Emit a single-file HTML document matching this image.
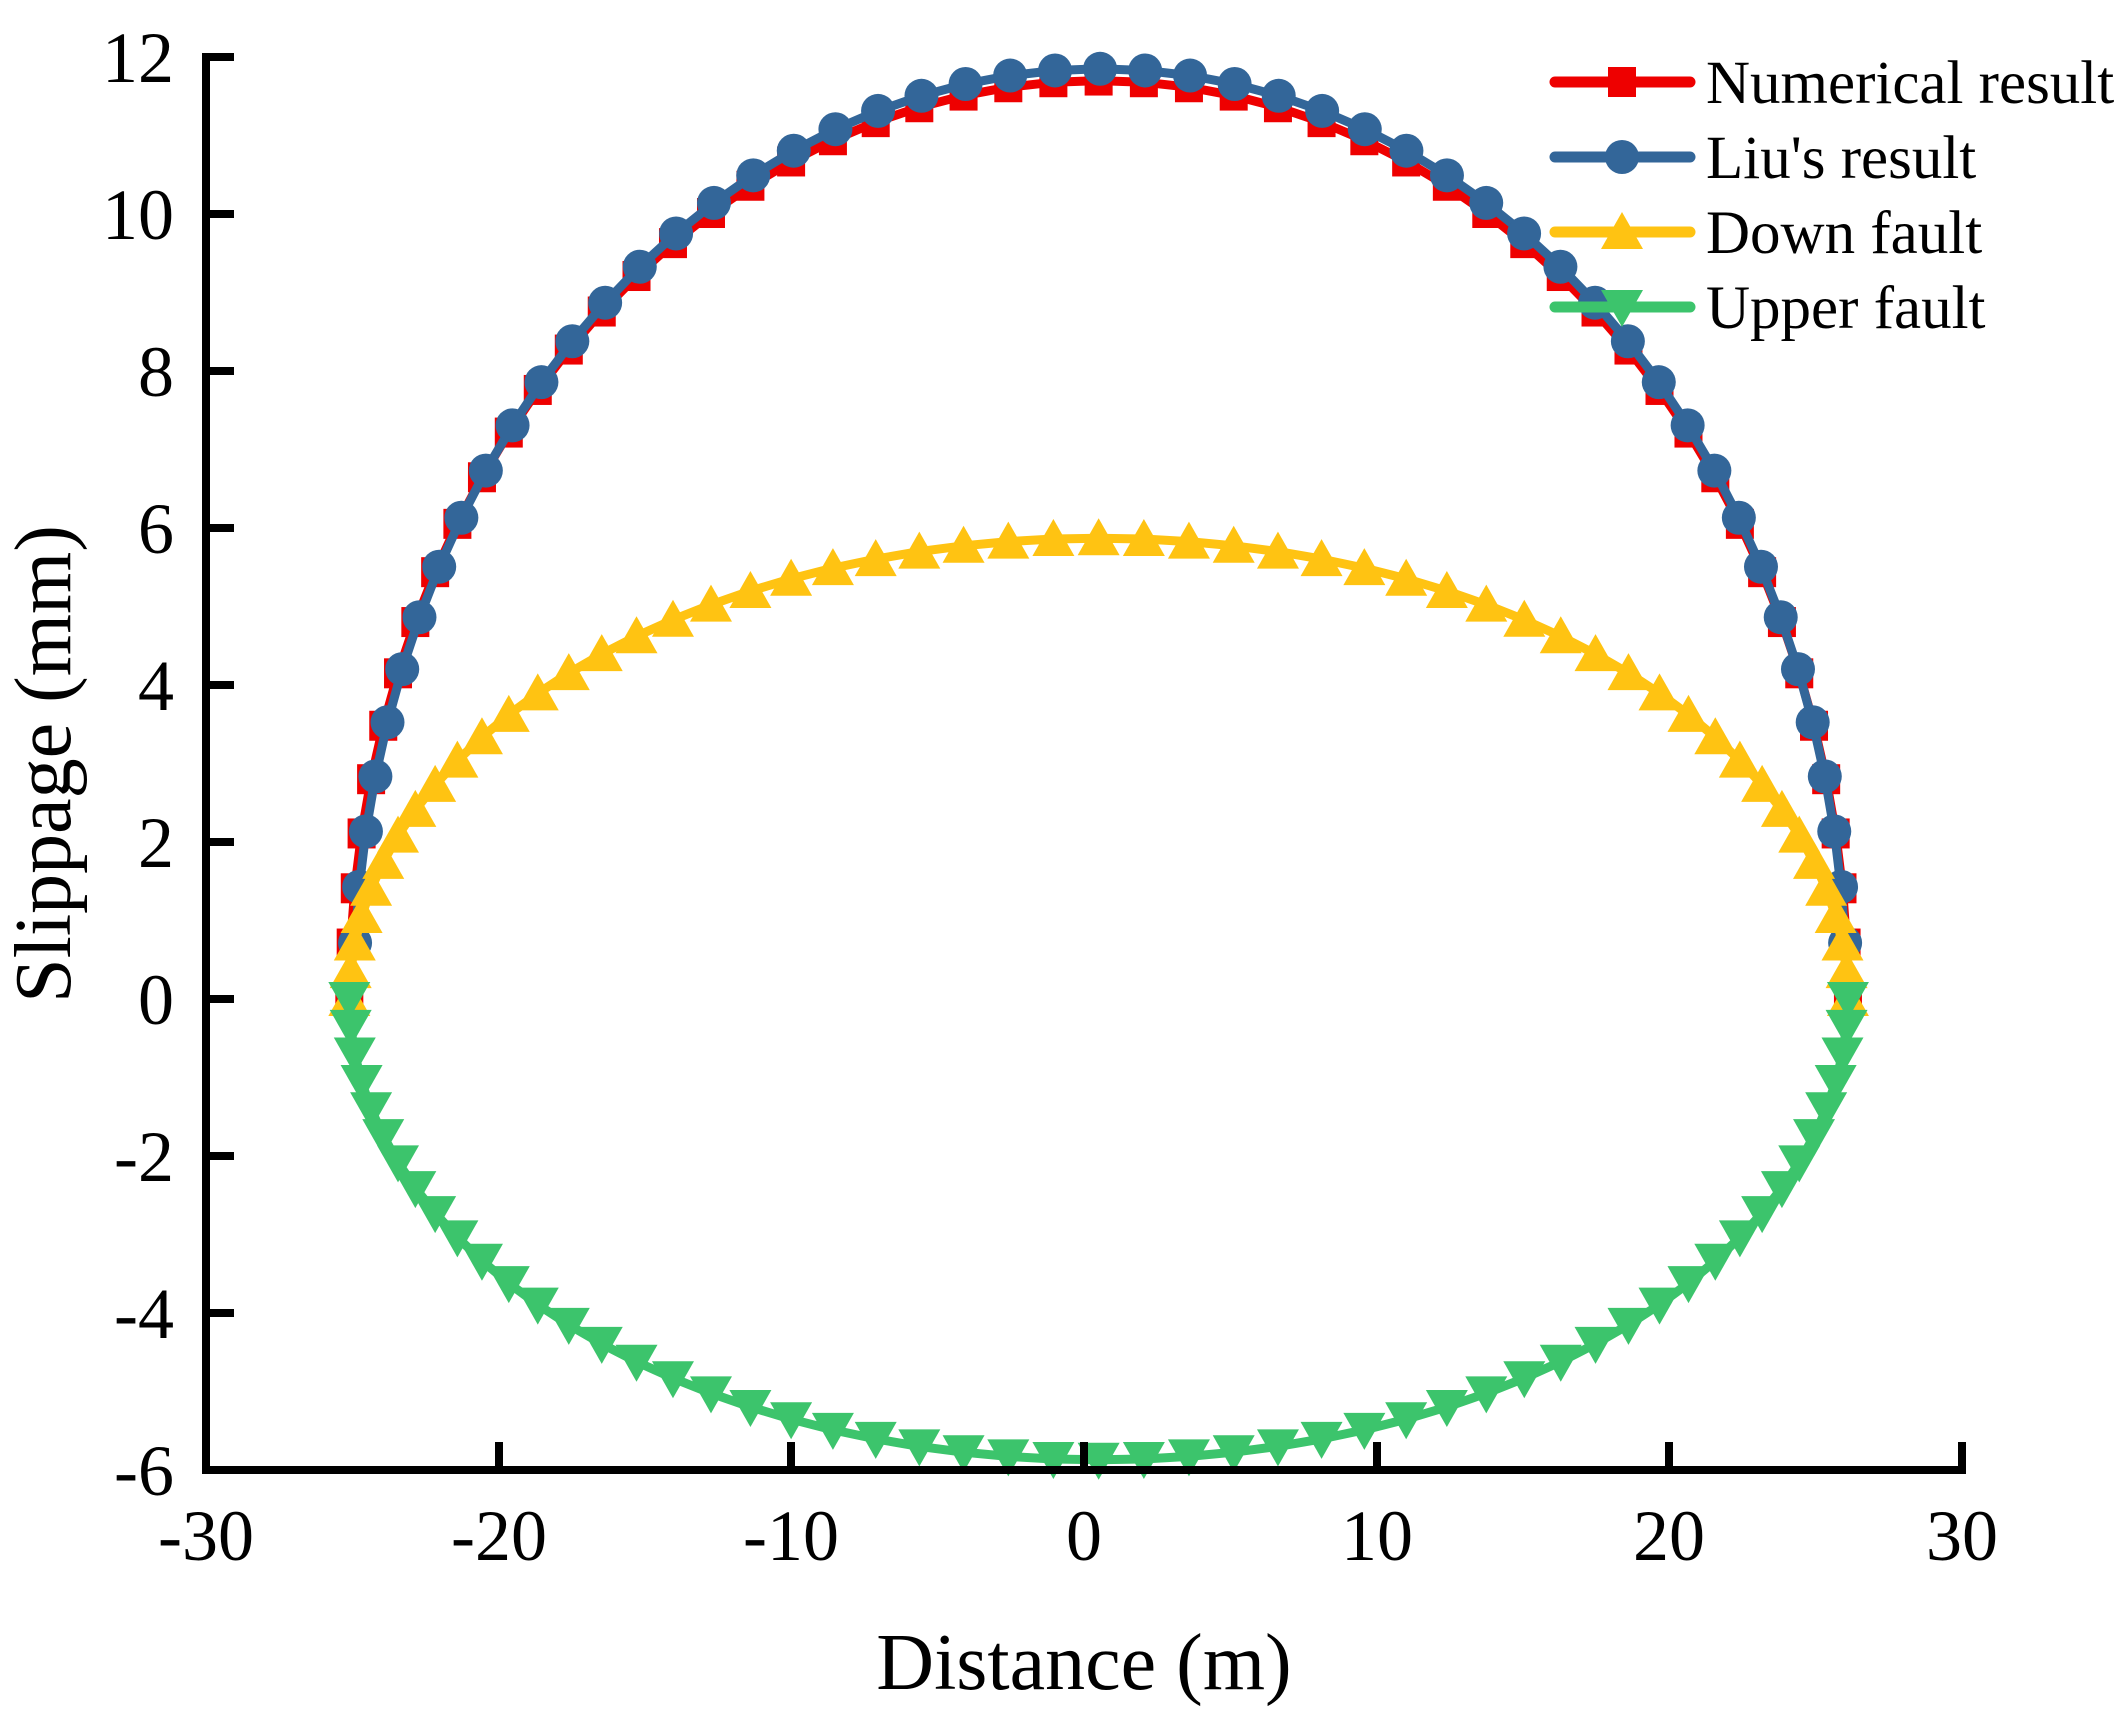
<!DOCTYPE html>
<html><head><meta charset="utf-8"><style>
html,body{margin:0;padding:0;background:#fff;}
svg{display:block;}
text{font-family:"Liberation Serif",serif;fill:#000;}
</style></head><body>
<svg id="s" width="2121" height="1724" viewBox="0 0 2121 1724" xmlns="http://www.w3.org/2000/svg">
<g id="data"></g>
<g stroke="#000" stroke-width="8" fill="none">
<path d="M206,53 V1470 H1962 V1442"/>
<path d="M206,57 h28 M206,214 h28 M206,371 h28 M206,528 h28 M206,685 h28 M206,842 h28 M206,999 h28 M206,1156 h28 M206,1313 h28"/>
<path d="M499,1470 v-28 M791,1470 v-28 M1084,1470 v-28 M1377,1470 v-28 M1669,1470 v-28"/>
</g>
<g font-size="72" text-anchor="end">
<text x="174" y="82">12</text><text x="174" y="239">10</text><text x="174" y="396">8</text>
<text x="174" y="553">6</text><text x="174" y="710">4</text><text x="174" y="867">2</text>
<text x="174" y="1024">0</text><text x="174" y="1181">-2</text><text x="174" y="1338">-4</text>
<text x="174" y="1495">-6</text>
</g>
<g font-size="72" text-anchor="middle">
<text x="206" y="1560">-30</text><text x="499" y="1560">-20</text><text x="791" y="1560">-10</text>
<text x="1084" y="1560">0</text><text x="1377" y="1560">10</text><text x="1669" y="1560">20</text><text x="1962" y="1560">30</text>
</g>
<text x="1084" y="1689" font-size="80" text-anchor="middle">Distance (m)</text>
<text transform="translate(70,764) rotate(-90)" font-size="80" text-anchor="middle">Slippage (mm)</text>
<g id="leg"></g>
</svg>
<script>
var X=function(v){return 1084+v*29.27;},Y=function(v){return 999-v*78.5;};
var ns="http://www.w3.org/2000/svg";
function el(p,t,a){var e=document.createElementNS(ns,t);for(var k in a)e.setAttribute(k,a[k]);p.appendChild(e);return e;}
var D=document.getElementById('data'),L=document.getElementById('leg');
function mk(g,type,x,y,c){
 if(type=='sq')el(g,'rect',{x:x-14,y:y-15,width:28,height:30,fill:c});
 else if(type=='ci')el(g,'circle',{cx:x,cy:y,r:17,fill:c});
 else if(type=='up')el(g,'polygon',{points:(x-21)+','+(y+17)+' '+(x+21)+','+(y+17)+' '+x+','+(y-20),fill:c});
 else el(g,'polygon',{points:(x-21)+','+(y-17)+' '+(x+21)+','+(y-17)+' '+x+','+(y+20),fill:c});
}
var series=[
 {c:'#ee0000',t:'sq',cx:0.5,R:25.6,A:11.7,s:0,e:0},
 {c:'#336699',t:'ci',cx:0.55,R:25.5,A:11.85,s:1,e:1},
 {c:'#ffc312',t:'up',cx:0.5,R:25.6,A:5.87,s:0,e:0},
 {c:'#3cc46c',t:'dn',cx:0.5,R:25.6,A:-5.87,s:0,e:0}
];
var N=52;
series.forEach(function(s){
 var pts=[];
 for(var i=s.s;i<=N-s.e;i++){var th=Math.PI*(1-i/N);var x=s.cx+s.R*Math.cos(th);var y=s.A*Math.sin(th);pts.push([X(x),Y(y)]);}
 el(D,'polyline',{points:pts.map(function(p){return p[0].toFixed(1)+','+p[1].toFixed(1)}).join(' '),fill:'none',stroke:s.c,'stroke-width':9,'stroke-linejoin':'round'});
 var g=el(D,'g',{});
 pts.forEach(function(p){mk(g,s.t,p[0],p[1],s.c);});
});
var names=['Numerical result',"Liu's result",'Down fault','Upper fault'];
series.forEach(function(s,i){
 var y=82+i*75;
 el(L,'line',{x1:1555,y1:y,x2:1690,y2:y,stroke:s.c,'stroke-width':11,'stroke-linecap':'round'});
 mk(L,s.t,1622,y,s.c);
 var t=el(L,'text',{x:1706,y:y+21,'font-size':61});t.textContent=names[i];
});
</script>
</body></html>
